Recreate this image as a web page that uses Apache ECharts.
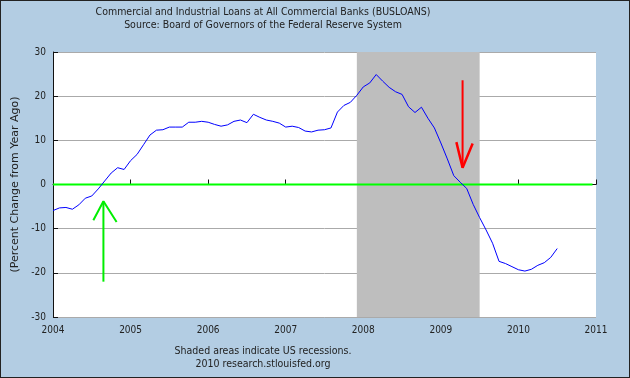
<!DOCTYPE html>
<html>
<head>
<meta charset="utf-8">
<script src="https://cdn.jsdelivr.net/npm/echarts@6/dist/echarts.min.js"></script>
<style>
  body { margin: 0; background: #fff; }
  #chart { width: 630px; height: 378px; box-sizing: border-box; border: 1px solid #222; background: #b3cde3; }
</style>
</head>
<body>
<div id="chart"></div>
<script>
// yoy % change, monthly from Jan 2004
var startYear = 2004;
var loanChange = [
  -5.9, -5.3, -5.2, -5.6, -4.6, -3.1, -2.6, -1.0, 0.8, 2.6,
  3.8, 3.4, 5.4, 6.8, 9.0, 11.2, 12.3, 12.4, 13.0, 13.0,
  13.0, 14.1, 14.1, 14.3, 14.1, 13.6, 13.2, 13.5, 14.3, 14.6,
  14.0, 15.9, 15.2, 14.6, 14.3, 13.9, 13.0, 13.2, 12.9, 12.1,
  11.9, 12.3, 12.4, 12.8, 16.4, 17.9, 18.6, 20.2, 22.1, 23.0,
  24.9, 23.4, 22.0, 21.0, 20.4, 17.6, 16.3, 17.5, 15.0, 12.8,
  9.4, 5.8, 2.0, 0.5, -0.9, -4.5, -7.5, -10.3, -13.3, -17.4,
  -17.9, -18.6, -19.3, -19.6, -19.2, -18.3, -17.7, -16.5, -14.5
];
var recession = [2007.917, 2009.5];
var yTicks = { min: -30, max: 30, step: 10 };
var xTicks = { min: 2004, max: 2011, step: 1 };
// annotations: [x, y] in data units
var greenArrow = [[2004.65, -22.0], [2004.65, -3.8]];
var greenHead = [[2004.52, -8.1], [2004.65, -3.8], [2004.82, -8.5]];
var redArrow = [[2009.28, 23.6], [2009.28, 3.8]];
var redHead = [[2009.20, 9.6], [2009.28, 3.8], [2009.41, 9.3]];
var zeroLine = [[2004, 0], [2010.955, 0]];
var titleLines = [
  'Commercial and Industrial Loans at All Commercial Banks (BUSLOANS)',
  'Source: Board of Governors of the Federal Reserve System'
];
var footLines = [
  'Shaded areas indicate US recessions.',
  '2010 research.stlouisfed.org'
];

var points = loanChange.map(function (v, i) {
  return [startYear + i / 12, v];
});

var chart = echarts.init(document.getElementById('chart'));
var font = 'DejaVu Sans Condensed, DejaVu Sans, sans-serif';

function textLine(str, y) {
  return {
    type: 'text', x: 262, y: y, silent: true,
    style: {
      text: str, align: 'center', verticalAlign: 'middle',
      font: '10.5px ' + font, fill: '#222'
    }
  };
}

chart.setOption({
  animation: false,
  textStyle: { fontFamily: font },
  graphic: [
    textLine(titleLines[0], 11.5),
    textLine(titleLines[1], 24),
    textLine(footLines[0], 350.7),
    textLine(footLines[1], 363.3)
  ],
  grid: {
    left: 52, right: 33, top: 51, bottom: 60,
    outerBoundsMode: 'none', containLabel: false,
    show: true, backgroundColor: '#fff', borderWidth: 0
  },
  xAxis: {
    type: 'value',
    min: xTicks.min, max: xTicks.max, interval: xTicks.step,
    axisLine: { lineStyle: { color: '#111', width: 1 } },
    axisTick: { inside: true, length: 5, lineStyle: { color: '#111' } },
    axisLabel: { color: '#222', fontSize: 10, margin: 8, formatter: function (v) { return String(v); } },
    splitLine: { show: false }
  },
  yAxis: {
    type: 'value',
    min: yTicks.min, max: yTicks.max, interval: yTicks.step,
    name: '(Percent Change from Year Ago)',
    nameLocation: 'middle', nameGap: 32, nameRotate: 90,
    nameTextStyle: { color: '#222', fontSize: 11, fontFamily: 'DejaVu Sans' },
    axisLine: { show: true, lineStyle: { color: '#111', width: 1 } },
    axisTick: { show: true, inside: true, length: 5, lineStyle: { color: '#111' } },
    axisLabel: { color: '#222', fontSize: 10, margin: 7 },
    splitLine: { lineStyle: { color: '#aaa', width: 1 } }
  },
  series: [
    {
      type: 'line',
      data: points,
      showSymbol: false,
      lineStyle: { color: '#0000ff', width: 1 },
      z: 4,
      markArea: {
        silent: true,
        itemStyle: { color: '#bebebe' },
        data: [[{ xAxis: recession[0] }, { xAxis: recession[1] }]]
      }
    },
    {
      type: 'line', data: zeroLine, showSymbol: false, silent: true, z: 3,
      lineStyle: { color: '#00ff00', width: 2 }
    },
    {
      type: 'line', data: greenArrow, showSymbol: false, silent: true, z: 5,
      lineStyle: { color: '#00ee00', width: 2 }
    },
    {
      type: 'line', data: greenHead, showSymbol: false, silent: true, z: 5,
      lineStyle: { color: '#00ee00', width: 2 }
    },
    {
      type: 'line', data: redArrow, showSymbol: false, silent: true, z: 5,
      lineStyle: { color: '#ff0000', width: 2 }
    },
    {
      type: 'line', data: redHead, showSymbol: false, silent: true, z: 5,
      lineStyle: { color: '#ff0000', width: 2.5 }
    }
  ]
});
</script>
</body>
</html>
